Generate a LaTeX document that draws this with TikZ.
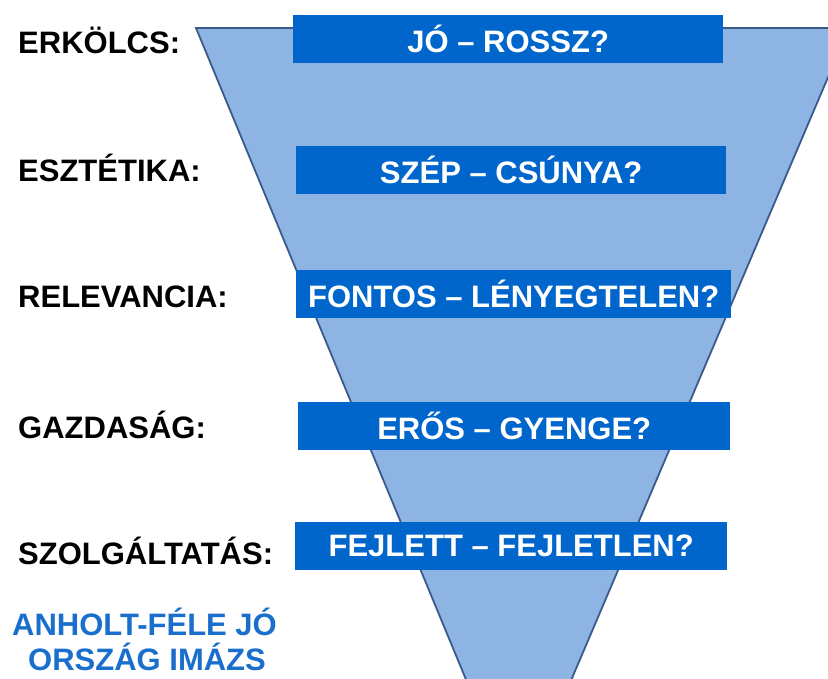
\documentclass[tikz,border=0pt]{standalone}
\usepackage{fontspec}
\setmainfont{Liberation Sans}
\usepackage{xcolor}
\usepackage{tikz}
\usetikzlibrary{calc}
\definecolor{funnelfill}{HTML}{8EB4E3}
\definecolor{funneledge}{HTML}{3A5A8A}
\definecolor{boxblue}{HTML}{0066CC}
\definecolor{titleblue}{HTML}{1A6FCC}
\tikzset{
  funnelShape/.style={fill=funnelfill, draw=funneledge, line width=1.8pt, line join=miter},
  answerBox/.style={fill=boxblue, text=white, font=\fontsize{31}{36}\selectfont\bfseries,
    minimum width=430pt, minimum height=48pt, inner sep=0pt, anchor=west},
  areaLabel/.style={text=black, font=\fontsize{31}{36}\selectfont\bfseries, anchor=west, inner sep=0pt},
  titleText/.style={text=titleblue, font=\fontsize{31}{35}\selectfont\bfseries, align=left, anchor=north west, inner sep=0pt}
}

\begin{document}
\begin{tikzpicture}[x=1pt, y=-1pt]
  \useasboundingbox (0,0) rectangle (828,678);
  \coordinate (TL) at (196,28);
  \coordinate (TR) at (849,28);
  \coordinate (apex) at (518,805);

  \begin{scope}
    \clip (0,0) rectangle (828,678);
    \draw[funnelShape] (TL) -- (TR) -- (apex) -- cycle;
  \end{scope}

  \node[answerBox] (erkolcs) at (293,38.5) {JÓ – ROSSZ?};
  \node[answerBox] (esztetika) at (296,170) {SZÉP – CSÚNYA?};
  \node[answerBox, minimum width=435pt] (relevancia) at (296,293.5) {FONTOS – LÉNYEGTELEN?};
  \node[answerBox, minimum width=432pt] (gazdasag) at (298,425.5) {ERŐS – GYENGE?};
  \node[answerBox, minimum width=432pt] (szolgaltatas) at (295,546) {FEJLETT – FEJLETLEN?};

  \node[areaLabel] (lErkolcs) at (18,40) {ERKÖLCS:};
  \node[areaLabel] (lEsztetika) at (18,168) {ESZTÉTIKA:};
  \node[areaLabel] (lRelevancia) at (18,297) {RELEVANCIA:};
  \node[areaLabel] (lGazdasag) at (18,425) {GAZDASÁG:};
  \node[areaLabel] (lSzolg) at (18,551) {SZOLGÁLTATÁS:};

  \node[titleText] (anholt) at (12,608) {ANHOLT-FÉLE JÓ\\\hspace*{16pt}ORSZÁG IMÁZS};
\end{tikzpicture}
\end{document}
